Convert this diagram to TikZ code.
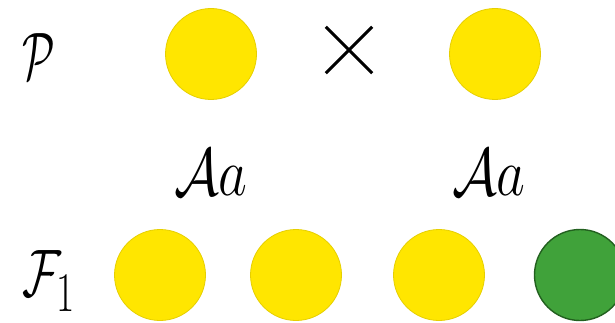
\documentclass[tikz,border=0pt]{standalone}
\usepackage{xcolor}
\usepackage{amsmath}
\usepackage{tikz}
\usetikzlibrary{positioning}

\definecolor{peayellow}{HTML}{FFE600}
\definecolor{peayellowedge}{HTML}{E6CF00}
\definecolor{peagreen}{HTML}{40A23A}
\definecolor{peagreenedge}{HTML}{22601F}

\tikzset{
  pea/.style={circle,minimum size=91pt,inner sep=0pt,line width=0.8pt},
  yellowpea/.style={pea,fill=peayellow,draw=peayellowedge},
  greenpea/.style={pea,fill=peagreen,draw=peagreenedge,line width=1.4pt},
  lab/.style={inner sep=0pt,font=\Huge,xscale=2.25,yscale=2.7}
}

\begin{document}
\begin{tikzpicture}[x=1pt,y=-1pt]
    \useasboundingbox (0,0) rectangle (615,323);
    % parents
    \node[lab,anchor=base west,xscale=0.75] (plab) at (22,80) {$\mathcal{P}$};
    \node[yellowpea] (p1) at (211,54) {};
    \node[yellowpea] (p2) at (495,54) {};
    \node[minimum size=46pt,inner sep=0pt] (cross) at (349,50) {};
    \draw[line width=3pt] (cross.north west)--(cross.south east)
      (cross.north east)--(cross.south west);
    \node[lab,anchor=base] (g1) at (211,195) {$\mathcal{A}a$};
    \node[lab,anchor=base] (g2) at (489,195) {$\mathcal{A}a$};
    % offspring
    \node[lab,anchor=base west,xscale=0.85] (flab) at (22,296)
      {$\mathcal{F}_{\lower 2pt\hbox{$\scriptstyle 1$}}$};
    \foreach \x/\nm/\sty in {160/f1/yellowpea,296/f2/yellowpea,439/f3/yellowpea,580/f4/greenpea}{
      \node[\sty] (\nm) at (\x,275) {};
    }
  \end{tikzpicture}
\end{document}
